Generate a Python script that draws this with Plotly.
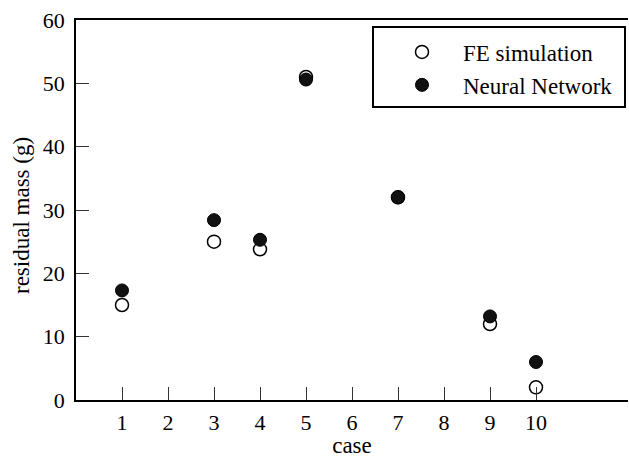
import plotly.graph_objects as go

cases = [1, 3, 4, 5, 7, 9, 10]
fe_simulation = [15.0, 25.0, 23.8, 51.0, 32.0, 12.0, 2.0]
neural_network = [17.3, 28.4, 25.3, 50.6, 32.0, 13.2, 6.0]
x_ticks = list(range(1, 11))
y_ticks = [0, 10, 20, 30, 40, 50, 60]

FONT = "Liberation Serif, Times New Roman, serif"

fig = go.Figure()
fig.add_trace(go.Scatter(
    x=cases, y=fe_simulation, mode="markers", name="FE simulation",
    marker=dict(symbol="circle", size=13, color="white",
                line=dict(color="black", width=1.5)),
    cliponaxis=False,
))
fig.add_trace(go.Scatter(
    x=cases, y=neural_network, mode="markers", name="Neural Network",
    marker=dict(symbol="circle", size=13, color="#111111",
                line=dict(color="black", width=1)),
    cliponaxis=False,
))

# legend frame
fig.add_shape(type="rect", xref="paper", yref="paper",
              x0=(373 - 76) / 552, x1=(625 - 76) / 552,
              y0=(400 - 107) / 380, y1=(400 - 27) / 380,
              line=dict(color="black", width=2), fillcolor="rgba(0,0,0,0)")

# y-axis title, set a little closer to the tick labels than plotly's own title
fig.add_annotation(text="residual mass (g)", textangle=-90, showarrow=False,
                   xref="paper", yref="paper",
                   x=(21 - 76) / 552, y=(400 - 216) / 380,
                   xanchor="center", yanchor="middle",
                   font=dict(family=FONT, size=23, color="black"))

fig.update_layout(
    width=629, height=458,
    margin=dict(l=76, r=1, t=20, b=58),
    paper_bgcolor="white", plot_bgcolor="white",
    font=dict(family=FONT, size=22, color="black"),
    showlegend=True,
    legend=dict(x=(381 - 76) / 552, y=(400 - 30.5) / 380, xanchor="left", yanchor="top",
                bgcolor="rgba(0,0,0,0)", borderwidth=0, itemwidth=72,
                font=dict(family=FONT, size=23), tracegroupgap=0),
    xaxis=dict(range=[0, 12], tickvals=x_ticks, ticks="inside", ticklen=13,
               tickwidth=1.2, tickcolor="#333", showline=True, linecolor="black",
               linewidth=1.5, mirror=True, showgrid=False, zeroline=False,
               ticklabelstandoff=2,
               title=dict(text="case", standoff=2, font=dict(size=23)),
               tickfont=dict(size=22)),
    yaxis=dict(range=[0, 60], tickvals=y_ticks, ticks="inside", ticklen=13,
               tickwidth=1.2, tickcolor="#333", showline=True, linecolor="black",
               linewidth=1.5, showgrid=False, zeroline=False,
               ticklabelstandoff=5,
               tickfont=dict(size=22)),
)

fig.write_html("out.html")
